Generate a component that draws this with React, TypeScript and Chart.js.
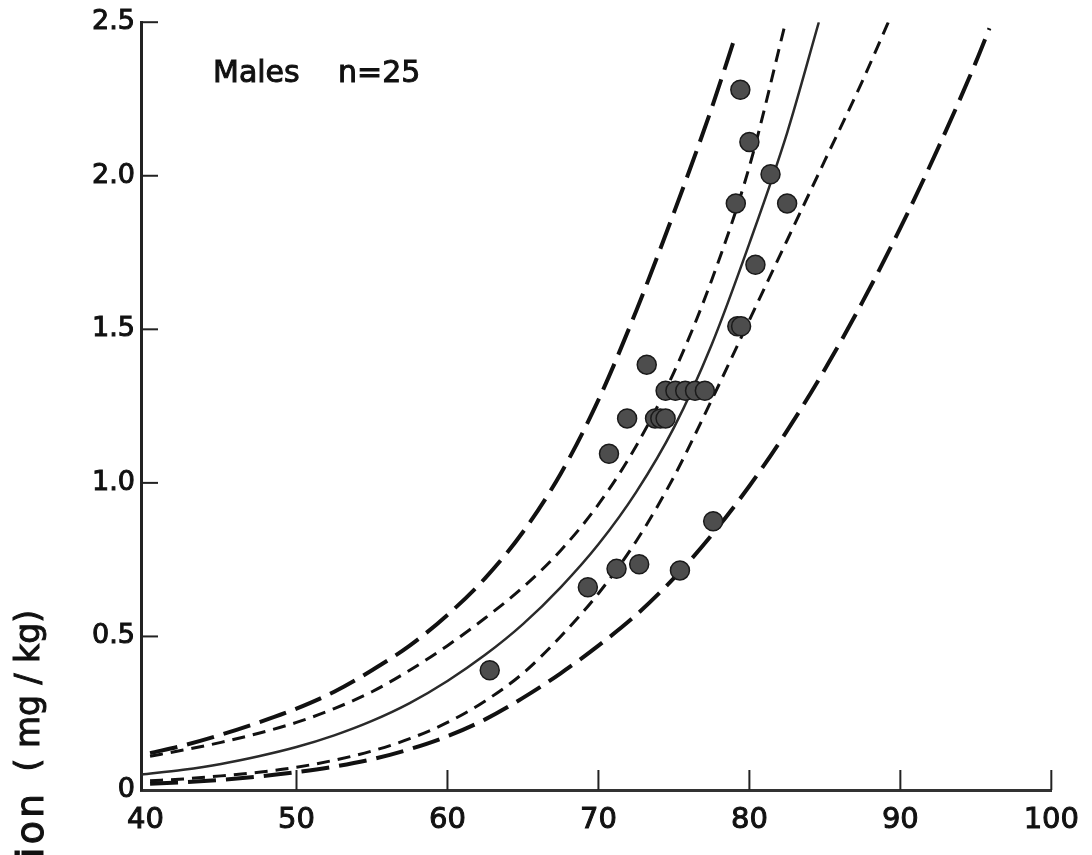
import React, { useEffect, useRef } from "react";
import { Chart, registerables } from "chart.js";

Chart.register(...registerables);

const FONT = "'DejaVu Sans', 'Liberation Sans', sans-serif";

// Axis range and ticks
const xMin = 39.7;
const xMax = 100;
const xTickValues = [40, 50, 60, 70, 80, 90, 100];
const yTickValues = [0, 0.5, 1.0, 1.5, 2.0, 2.5];

// Texts
const groupLabel = "Males";
const nLabel = "n=25";
const yTitleUnit = "( mg / kg)";
const yTitleWord = "Concentration";

// Observed points (age, value)
const pointsX = [62.8, 69.3, 71.2, 72.7, 75.4, 77.6, 70.7, 71.9, 73.2, 73.75, 74.1, 74.45, 74.45, 75.1, 75.75, 76.4, 77.05, 79.2, 79.45, 79.4, 80.0, 81.4, 79.1, 82.5, 80.4];
const pointsY = [0.39, 0.66, 0.72, 0.735, 0.715, 0.875, 1.095, 1.21, 1.385, 1.21, 1.21, 1.21, 1.30, 1.30, 1.30, 1.30, 1.30, 1.51, 1.51, 2.28, 2.11, 2.005, 1.91, 1.91, 1.71];

// Regression curve (solid)
const fitX = [39.7, 42.5, 45, 47.5, 50, 52.5, 55, 57.5, 60, 62.5, 65, 67.5, 70, 72.5, 75, 77.5, 80, 82.5, 84.6];
const fitY = [0.05, 0.066, 0.085, 0.11, 0.14, 0.178, 0.225, 0.283, 0.355, 0.44, 0.54, 0.66, 0.80, 0.97, 1.18, 1.45, 1.78, 2.14, 2.5];

// Inner band (short dashes)
const innerUpperX = [40.3, 42.5, 45, 47.5, 50, 52.5, 55, 57.5, 60, 62.5, 65, 67.5, 70, 72.5, 75, 77.5, 80, 82.4];
const innerUpperY = [0.11, 0.13, 0.155, 0.185, 0.22, 0.265, 0.32, 0.39, 0.47, 0.56, 0.66, 0.78, 0.93, 1.12, 1.36, 1.66, 2.03, 2.5];
const innerLowerX = [40.3, 42.5, 45, 47.5, 50, 52.5, 55, 57.5, 60, 62.5, 65, 67.5, 70, 72.5, 75, 77.5, 80, 82.5, 85, 87.5, 89.2];
const innerLowerY = [0.03, 0.036, 0.046, 0.058, 0.074, 0.097, 0.127, 0.167, 0.22, 0.29, 0.38, 0.5, 0.64, 0.81, 1.02, 1.27, 1.53, 1.79, 2.05, 2.31, 2.5];

// Outer band (long dashes)
const outerUpperX = [40.3, 42.5, 45, 47.5, 50, 52.5, 55, 57.5, 60, 62.5, 65, 67.5, 70, 72.5, 75, 77.5, 79.1];
const outerUpperY = [0.12, 0.145, 0.18, 0.22, 0.265, 0.32, 0.39, 0.47, 0.57, 0.69, 0.84, 1.03, 1.27, 1.56, 1.88, 2.22, 2.46];
const outerLowerX = [40.3, 42.5, 45, 47.5, 50, 52.5, 55, 57.5, 60, 62.5, 65, 67.5, 70, 72.5, 75, 77.5, 80, 82.5, 85, 87.5, 90, 92.5, 95, 95.9];
const outerLowerY = [0.02, 0.025, 0.033, 0.044, 0.058, 0.076, 0.1, 0.133, 0.175, 0.23, 0.3, 0.38, 0.47, 0.57, 0.69, 0.83, 0.99, 1.17, 1.37, 1.59, 1.83, 2.09, 2.37, 2.48];

const toPts = (xs: number[], ys: number[]) => xs.map((x, i) => ({ x, y: ys[i] }));

const curve = (xs: number[], ys: number[], dash: number[], width: number, color: string) => ({
  data: toPts(xs, ys),
  showLine: true,
  borderColor: color,
  borderWidth: width,
  borderDash: dash,
  pointRadius: 0,
  pointHoverRadius: 0,
  cubicInterpolationMode: "monotone" as const,
  fill: false,
});

const drawBoldText = (ctx: CanvasRenderingContext2D, text: string, x: number, y: number) => {
  ctx.fillText(text, x, y);
  ctx.strokeText(text, x, y);
};

const decorPlugin = {
  id: "decor",
  afterDraw(chart: any) {
    const { ctx, chartArea, scales } = chart;
    const xs = scales.x;
    const ys = scales.y;
    ctx.save();
    ctx.strokeStyle = "#222";
    ctx.lineWidth = 2;
    ctx.lineCap = "butt";
    // inward tick marks
    yTickValues.slice(1).forEach((v) => {
      const py = ys.getPixelForValue(v);
      ctx.beginPath();
      ctx.moveTo(chartArea.left, py);
      ctx.lineTo(chartArea.left + 17, py);
      ctx.stroke();
    });
    xTickValues.slice(1).forEach((v) => {
      const px = xs.getPixelForValue(v);
      ctx.beginPath();
      ctx.moveTo(px, chartArea.bottom);
      ctx.lineTo(px, chartArea.bottom - 20);
      ctx.stroke();
    });
    // annotation
    ctx.fillStyle = "#111";
    ctx.strokeStyle = "#111";
    ctx.lineWidth = 1;
    ctx.font = `30px ${FONT}`;
    ctx.textAlign = "left";
    ctx.textBaseline = "alphabetic";
    drawBoldText(ctx, groupLabel, 213, 82);
    drawBoldText(ctx, nLabel, 338, 82);
    // y title (rotated)
    ctx.save();
    ctx.translate(39, 610);
    ctx.rotate(-Math.PI / 2);
    ctx.textAlign = "right";
    ctx.font = `33px ${FONT}`;
    drawBoldText(ctx, yTitleUnit, 0, 0);
    ctx.restore();
    ctx.save();
    ctx.translate(43, 791);
    ctx.rotate(-Math.PI / 2);
    ctx.textAlign = "right";
    ctx.font = `38px ${FONT}`;
    (ctx as any).letterSpacing = "3px";
    drawBoldText(ctx, yTitleWord, 0, 0);
    ctx.restore();
    ctx.restore();
  },
};

export default function App() {
  const ref = useRef<HTMLCanvasElement | null>(null);
  useEffect(() => {
    if (!ref.current) return;
    const chart = new Chart(ref.current, {
      type: "scatter",
      data: {
        datasets: [
          {
            data: toPts(pointsX, pointsY),
            pointRadius: 9.5,
            pointHoverRadius: 9.5,
            pointBackgroundColor: "#4d4d4d",
            pointBorderColor: "#1a1a1a",
            pointBorderWidth: 1.5,
            showLine: false,
          } as any,
          curve(fitX, fitY, [], 2.5, "#2a2a2a"),
          curve(innerUpperX, innerUpperY, [13, 8], 3, "#111"),
          curve(innerLowerX, innerLowerY, [13, 8], 3, "#111"),
          curve(outerUpperX, outerUpperY, [28, 10], 4, "#111"),
          curve(outerLowerX, outerLowerY, [28, 10], 4, "#111"),
        ],
      },
      options: {
        animation: false,
        responsive: false,
        maintainAspectRatio: false,
        layout: { padding: { left: 0, top: 22, right: 34, bottom: 25 } },
        plugins: { legend: { display: false }, tooltip: { enabled: false } },
        scales: {
          x: {
            type: "linear",
            min: xMin,
            max: xMax,
            afterBuildTicks: (s: any) => {
              s.ticks = xTickValues.map((v) => ({ value: v }));
            },
            afterFit: (s: any) => {
              s.height = 40;
            },
            ticks: {
              autoSkip: false,
              maxRotation: 0,
              padding: 13,
              color: "#111",
              textStrokeColor: "#111",
              textStrokeWidth: 1,
              font: { family: FONT, size: 29 },
              callback: (v: any) => String(v),
            },
            grid: { display: false, drawTicks: false },
            border: { display: true, width: 3, color: "#333" },
          },
          y: {
            type: "linear",
            min: 0,
            max: 2.5,
            afterBuildTicks: (s: any) => {
              s.ticks = yTickValues.map((v) => ({ value: v }));
            },
            afterFit: (s: any) => {
              s.width = 141;
            },
            ticks: {
              autoSkip: false,
              padding: 6,
              color: "#111",
              textStrokeColor: "#111",
              textStrokeWidth: 1,
              font: { family: FONT, size: 27 },
              callback: (v: any) => (Number(v) === 0 ? "0" : Number(v).toFixed(1)),
            },
            grid: { display: false, drawTicks: false },
            border: { display: true, width: 3, color: "#222" },
          },
        },
      } as any,
      plugins: [decorPlugin],
    });
    return () => chart.destroy();
  }, []);

  return (
    <div style={{ position: "fixed", left: 0, top: 0, width: 1092, height: 855, background: "#fff", overflow: "hidden" }}>
      <canvas ref={ref} width={1092} height={855} style={{ display: "block", width: 1092, height: 855 }} />
    </div>
  );
}
